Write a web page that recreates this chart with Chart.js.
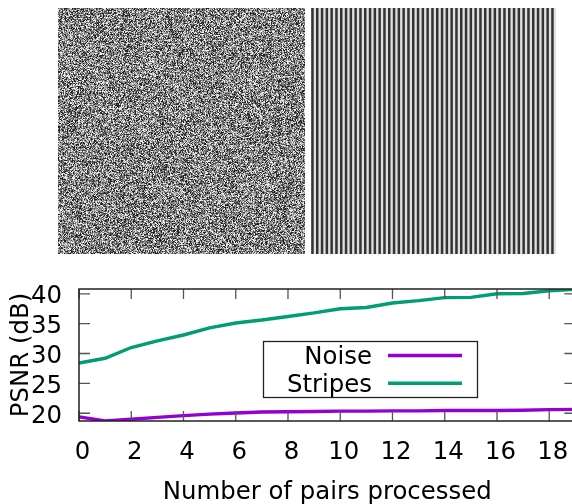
<!DOCTYPE html>
<html>
<head>
<meta charset="utf-8">
<style>
  html, body { margin: 0; padding: 0; background: #fff; overflow: hidden; width: 572px; height: 504px; }
  #box { width: 582px; height: 504px; }
</style>
<script src="https://cdn.jsdelivr.net/npm/chart.js@4"></script>
</head>
<body>
<div id="box"><canvas id="psnrChart" width="582" height="504"></canvas></div>
<script>
const pairs = [0, 1, 2, 3, 4, 5, 6, 7, 8, 9, 10, 11, 12, 13, 14, 15, 16, 17, 18, 19];
const noisePsnr = [19.4, 18.7, 19.0, 19.3, 19.6, 19.85, 20.05, 20.2, 20.25, 20.3, 20.35, 20.35, 20.4, 20.4, 20.45, 20.45, 20.45, 20.5, 20.6, 20.65];
const stripesPsnr = [28.4, 29.2, 31.0, 32.1, 33.1, 34.3, 35.1, 35.6, 36.2, 36.8, 37.5, 37.7, 38.45, 38.85, 39.35, 39.4, 40.0, 40.05, 40.5, 40.75];

const font = "'DejaVu Sans'";

// the two sample images above the plot
function drawSamples(ctx) {
  // xorshift with a fixed seed so the texture is the same on every run
  let seed = 2463534242;
  const img = ctx.createImageData(247, 246);
  for (let i = 0; i < img.data.length; i += 4) {
    seed ^= seed << 13;
    seed ^= seed >>> 17;
    seed ^= seed << 5;
    const r = (seed >>> 8) & 255;
    const v = r < 50 ? 35 : r < 105 ? 90 : r < 160 ? 135 : r < 210 ? 180 : 235;
    img.data[i] = img.data[i + 1] = img.data[i + 2] = v;
    img.data[i + 3] = 255;
  }
  ctx.putImageData(img, 58, 8);

  ctx.fillStyle = "#e0e0e0";
  ctx.fillRect(311, 8, 245, 246);
  ctx.fillStyle = "#333";
  for (let x = 311.2; x < 555; x += 4.8) {
    ctx.fillRect(x, 8, 2.5, 246);
  }
}

// gnuplot style inward ticks on all four sides
function drawTicks(chart) {
  const { ctx, chartArea: a, scales } = chart;
  ctx.save();
  ctx.strokeStyle = "#555";
  ctx.lineWidth = 1.3;
  ctx.beginPath();
  scales.x.ticks.forEach(t => {
    const px = scales.x.getPixelForValue(t.value);
    ctx.moveTo(px, a.top);
    ctx.lineTo(px, a.top + 10);
    ctx.moveTo(px, a.bottom);
    ctx.lineTo(px, a.bottom - 10);
  });
  scales.y.ticks.forEach(t => {
    const py = scales.y.getPixelForValue(t.value);
    ctx.moveTo(a.left, py);
    ctx.lineTo(a.left + 11, py);
    ctx.moveTo(a.right, py);
    ctx.lineTo(a.right - 11, py);
  });
  ctx.stroke();
  ctx.strokeStyle = "#222";
  ctx.lineWidth = 1.5;
  ctx.strokeRect(a.left, a.top, a.right - a.left, a.bottom - a.top);
  ctx.restore();
}

function drawLegend(chart) {
  const { ctx } = chart;
  ctx.save();
  ctx.fillStyle = "#fff";
  ctx.fillRect(263.5, 341.5, 214, 56);
  ctx.strokeStyle = "#222";
  ctx.lineWidth = 1.3;
  ctx.strokeRect(263.5, 341.5, 214, 56);
  ctx.font = "24.4px " + font;
  ctx.textAlign = "right";
  ctx.textBaseline = "middle";
  chart.data.datasets.forEach((d, i) => {
    const y = 355.5 + i * 27.7;
    ctx.fillStyle = "#000";
    ctx.fillText(d.label, 372, y + 2);
    ctx.strokeStyle = d.borderColor;
    ctx.lineWidth = 3.4;
    ctx.beginPath();
    ctx.moveTo(388, y);
    ctx.lineTo(462, y);
    ctx.stroke();
  });
  ctx.restore();
}

const decorPlugin = {
  id: "decor",
  beforeDraw(chart) { drawSamples(chart.ctx); },
  afterDatasetsDraw(chart) { drawTicks(chart); drawLegend(chart); }
};

new Chart(document.getElementById("psnrChart"), {
  type: "line",
  plugins: [decorPlugin],
  data: {
    labels: pairs,
    datasets: [
      { label: "Noise", data: noisePsnr, borderColor: "#9400d3" },
      { label: "Stripes", data: stripesPsnr, borderColor: "#009e73" }
    ]
  },
  options: {
    responsive: false,
    animation: false,
    elements: {
      point: { radius: 0 },
      line: { borderWidth: 3.4, tension: 0 }
    },
    layout: { padding: { top: 289, left: 0, right: 5, bottom: 0 } },
    plugins: { legend: { display: false }, tooltip: { enabled: false } },
    scales: {
      x: {
        type: "linear",
        min: 0,
        max: 19,
        afterFit(s) { s.height = 83; },
        grid: { display: false, drawTicks: false },
        border: { display: false },
        ticks: {
          stepSize: 2,
          includeBounds: false,
          autoSkip: false,
          maxRotation: 0,
          labelOffset: 3.5,
          padding: 17,
          color: "#000",
          font: { family: font, size: 24.4 }
        },
        title: {
          display: true,
          text: "Number of pairs processed",
          color: "#000",
          font: { family: font, size: 24.4 },
          padding: { top: 0, bottom: -3 }
        }
      },
      y: {
        min: 18.7,
        max: 40.8,
        afterFit(s) { s.width = 79; },
        grid: { display: false, drawTicks: false },
        border: { display: false },
        ticks: {
          stepSize: 5,
          includeBounds: false,
          labelOffset: 3,
          padding: 17,
          color: "#000",
          font: { family: font, size: 24.4 }
        },
        title: {
          display: true,
          text: "PSNR (dB)",
          color: "#000",
          font: { family: font, size: 24.4 },
          padding: { top: 7, bottom: 0 }
        }
      }
    }
  }
});
</script>
</body>
</html>
